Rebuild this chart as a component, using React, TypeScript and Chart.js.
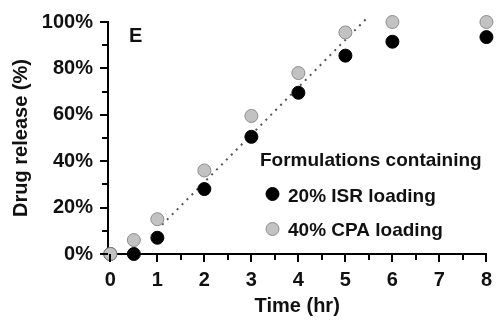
import React, { useEffect, useRef } from "react";
import { Chart, registerables } from "chart.js";

Chart.register(...registerables);

const hours = [0, 0.5, 1, 2, 3, 4, 5, 6, 8];
const isrRelease = [0, 0, 7, 28, 50.5, 69.5, 85.5, 91.5, 93.5];
const cpaRelease = [0, 6, 15, 36, 59.5, 78, 95.5, 100, 100];
const trendHours = [1.1, 5.45];
const trendRelease = [12.6, 101.5];
const xTickValues = [0, 0.5, 1, 1.5, 2, 2.5, 3, 3.5, 4, 4.5, 5, 5.5, 6, 6.5, 7, 7.5, 8];
const yTickValues = [0, 10, 20, 30, 40, 50, 60, 70, 80, 90, 100];
const legendTitle = "Formulations containing";
const seriesLabels = ["20% ISR loading", "40% CPA loading"];
const panelLetter = "E";
const xTitle = "Time (hr)";
const yTitle = "Drug release (%)";

const FONT = "'Liberation Sans', Arial, sans-serif";
const BLACK = "#000000";
const GRAY_FILL = "#c2c2c2";
const GRAY_EDGE = "#8c8c8c";

const tickPlugin = {
  id: "customTicks",
  afterDraw(chart: any) {
    const ctx = chart.ctx;
    const xs = chart.scales.x;
    const ys = chart.scales.y;
    ctx.save();
    ctx.strokeStyle = "#000";
    ctx.lineWidth = 2;
    xTickValues.forEach((v) => {
      const px = Math.round(xs.getPixelForValue(v));
      const major = Number.isInteger(v);
      ctx.beginPath();
      ctx.moveTo(px, ys.bottom);
      ctx.lineTo(px, ys.bottom + (major ? 8 : 6));
      ctx.stroke();
    });
    yTickValues.forEach((v) => {
      const py = Math.round(ys.getPixelForValue(v));
      const major = v % 20 === 0;
      ctx.beginPath();
      ctx.moveTo(xs.left, py);
      ctx.lineTo(xs.left - (major ? 8 : 6), py);
      ctx.stroke();
    });
    // panel letter
    ctx.fillStyle = "#111";
    ctx.font = `bold 20px ${FONT}`;
    ctx.textBaseline = "alphabetic";
    ctx.textAlign = "left";
    ctx.fillText(panelLetter, 129, 42);
    // legend
    ctx.font = `bold 19px ${FONT}`;
    ctx.fillText(legendTitle, 260, 166);
    const rows = [
      { y: 194, base: 202, fill: BLACK, edge: BLACK, label: seriesLabels[0] },
      { y: 229, base: 236, fill: GRAY_FILL, edge: GRAY_EDGE, label: seriesLabels[1] },
    ];
    rows.forEach((r) => {
      ctx.beginPath();
      ctx.arc(272.5, r.y, 6.5, 0, Math.PI * 2);
      ctx.fillStyle = r.fill;
      ctx.fill();
      ctx.lineWidth = 1;
      ctx.strokeStyle = r.edge;
      ctx.stroke();
      ctx.fillStyle = "#111";
      ctx.fillText(r.label, 288, r.base);
    });
    ctx.restore();
  },
};

export default function App() {
  const ref = useRef<HTMLCanvasElement | null>(null);
  useEffect(() => {
    document.body.style.margin = "0";
    const canvas = ref.current!;
    const chart = new Chart(canvas, {
      type: "scatter",
      data: {
        datasets: [
          {
            label: seriesLabels[1],
            data: hours.map((h, i) => ({ x: h, y: cpaRelease[i] })),
            backgroundColor: GRAY_FILL,
            borderColor: GRAY_EDGE,
            borderWidth: 1,
            pointRadius: 6.5,
            order: 1,
            clip: false,
          } as any,
          {
            label: seriesLabels[0],
            data: hours.map((h, i) => ({ x: h, y: isrRelease[i] })),
            backgroundColor: BLACK,
            borderColor: BLACK,
            borderWidth: 1,
            pointRadius: 6.5,
            order: 2,
            clip: false,
          } as any,
          {
            label: "trend",
            data: trendHours.map((h, i) => ({ x: h, y: trendRelease[i] })),
            showLine: true,
            borderColor: "#555",
            borderWidth: 2,
            borderDash: [2, 5],
            pointRadius: 0,
            order: 3,
            clip: false,
          } as any,
        ],
      },
      options: {
        animation: false,
        responsive: false,
        maintainAspectRatio: false,
        layout: { padding: { top: 22, right: 9, left: 0, bottom: 0 } },
        plugins: { legend: { display: false }, tooltip: { enabled: false } },
        scales: {
          x: {
            type: "linear",
            min: -0.05,
            max: 8,
            grid: { display: false },
            border: { display: true, width: 2, color: "#000" },
            afterBuildTicks: (s: any) => {
              s.ticks = xTickValues.map((v) => ({ value: v }));
            },
            ticks: {
              autoSkip: false,
              maxRotation: 0,
              padding: 6,
              color: "#111",
              font: { family: FONT, size: 20, weight: "bold" },
              callback: (v: any) => (Number.isInteger(v) ? String(v) : ""),
            },
            title: {
              display: true,
              text: xTitle,
              color: "#111",
              font: { family: FONT, size: 20, weight: "bold" },
              padding: { top: 0, bottom: 3 },
            },
            afterFit: (s: any) => {
              s.height = 67;
            },
          },
          y: {
            type: "linear",
            min: 0,
            max: 100,
            grid: { display: false },
            border: { display: true, width: 2, color: "#000" },
            afterBuildTicks: (s: any) => {
              s.ticks = yTickValues.map((v) => ({ value: v }));
            },
            ticks: {
              autoSkip: false,
              padding: 7,
              color: "#111",
              font: { family: FONT, size: 20, weight: "bold" },
              callback: (v: any) => (v % 20 === 0 ? `${v}%` : ""),
            },
            title: {
              display: true,
              text: yTitle,
              color: "#111",
              font: { family: FONT, size: 20, weight: "bold" },
              padding: { top: 9, bottom: 0 },
            },
            afterFit: (s: any) => {
              s.width = 108;
            },
          },
        },
      } as any,
      plugins: [tickPlugin],
    });
    return () => chart.destroy();
  }, []);
  return (
    <div style={{ width: 498, height: 321, background: "#fff" }}>
      <canvas ref={ref} width={498} height={321} style={{ display: "block" }} />
    </div>
  );
}
